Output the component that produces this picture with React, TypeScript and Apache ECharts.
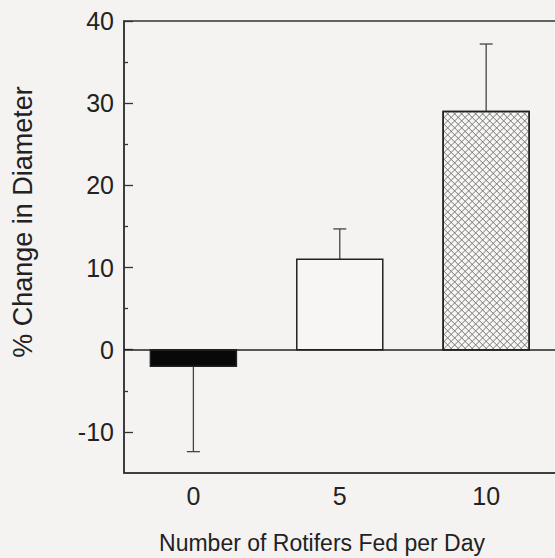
import React, { useEffect, useRef } from "react";
import * as echarts from "echarts";

const categories = [0, 5, 10];
const means = [-2, 11, 29];
const errors = [10.4, 3.7, 8.2];
const yMajorTicks = [-10, 0, 10, 20, 30, 40];
const yMinorTicks = [-5, 5, 15, 25, 35];

const FONT = "'Liberation Sans', Arial, sans-serif";
const AXIS = "#333";

export default function App() {
  const ref = useRef<HTMLDivElement>(null);
  useEffect(() => {
    if (!ref.current) return;
    const chart = echarts.init(ref.current, undefined, { renderer: "svg" });
    const data = categories.map((c, i) => [c, means[i], errors[i], i]);
    const BAR_W = 86;
    const CAP = 13;
    const HATCH = 7;

    const renderItem = (params: any, api: any) => {
      const x = api.value(0);
      const v = api.value(1);
      const e = api.value(2);
      const idx = api.value(3);
      const p0 = api.coord([x, 0]);
      const p1 = api.coord([x, v]);
      const pe = api.coord([x, v + (v >= 0 ? e : -e)]);
      const left = p0[0] - BAR_W / 2;
      const top = Math.min(p0[1], p1[1]);
      const h = Math.abs(p1[1] - p0[1]);
      const children: any[] = [];
      children.push({
        type: "line",
        shape: { x1: p1[0], y1: p1[1], x2: pe[0], y2: pe[1] },
        style: { stroke: "#444", lineWidth: 1.3 },
      });
      children.push({
        type: "line",
        shape: { x1: pe[0] - CAP / 2, y1: pe[1], x2: pe[0] + CAP / 2, y2: pe[1] },
        style: { stroke: "#444", lineWidth: 1.3 },
      });
      let fill = "#f7f6f5";
      if (idx === 0) fill = "#080808";
      children.push({
        type: "rect",
        shape: { x: left, y: top, width: BAR_W, height: h },
        style: { fill, stroke: "#222", lineWidth: 1.5 },
      });
      if (idx === 2) {
        const w = BAR_W;
        for (let c = -w; c <= h; c += HATCH) {
          const xa = Math.max(0, -c);
          const xb = Math.min(w, h - c);
          if (xb > xa)
            children.push({
              type: "line",
              shape: { x1: left + xa, y1: top + xa + c, x2: left + xb, y2: top + xb + c },
              style: { stroke: "#777", lineWidth: 1 },
            });
        }
        for (let c = 0; c <= w + h; c += HATCH) {
          const xa = Math.max(0, c - h);
          const xb = Math.min(w, c);
          if (xb > xa)
            children.push({
              type: "line",
              shape: { x1: left + xa, y1: top + c - xa, x2: left + xb, y2: top + c - xb },
              style: { stroke: "#777", lineWidth: 1 },
            });
        }
        children.push({
          type: "rect",
          shape: { x: left, y: top, width: BAR_W, height: h },
          style: { fill: "none", stroke: "#222", lineWidth: 1.5 },
        });
      }
      return { type: "group", children };
    };

    chart.setOption({
      animation: false,
      backgroundColor: "#f5f3f1",
      grid: {
        left: 124,
        top: 21,
        width: 438,
        bottom: 85,
        show: true,
        borderColor: AXIS,
        borderWidth: 1.5,
        backgroundColor: "transparent",
        outerBoundsMode: "none",
        containLabel: false,
      },
      xAxis: {
        type: "value",
        min: -2.37,
        max: 12.59,
        axisLine: { show: true, onZero: false, lineStyle: { color: AXIS, width: 1.5 } },
        axisTick: { show: false },
        splitLine: { show: false },
        axisLabel: {
          customValues: categories,
          color: "#222",
          fontFamily: FONT,
          fontSize: 25,
          margin: 10,
        },
      },
      yAxis: [
        {
          type: "value",
          min: -15,
          max: 40,
          axisLine: { show: true, onZero: false, lineStyle: { color: AXIS, width: 1.5 } },
          axisTick: {
            show: true,
            inside: true,
            length: 9,
            customValues: yMajorTicks,
            lineStyle: { color: AXIS, width: 1.3 },
          },
          splitLine: { show: false },
          axisLabel: {
            customValues: yMajorTicks,
            color: "#222",
            fontFamily: FONT,
            fontSize: 25,
            margin: 10,
          },
        },
        {
          type: "value",
          position: "left",
          min: -15,
          max: 40,
          axisLine: { show: false, onZero: false },
          axisTick: {
            show: true,
            inside: true,
            length: 4,
            customValues: yMinorTicks,
            lineStyle: { color: AXIS, width: 1.3 },
          },
          splitLine: { show: false },
          axisLabel: { show: false },
        },
      ],
      series: [
        {
          type: "custom",
          renderItem,
          data,
          encode: { x: 0, y: 1 },
          clip: false,
          markLine: {
            silent: true,
            symbol: ["none", "none"],
            label: { show: false },
            lineStyle: { color: "#222", width: 1.5, type: "solid" },
            data: [{ yAxis: 0 }],
          },
        },
      ],
      graphic: [
        {
          type: "text",
          x: 23,
          y: 222,
          rotation: Math.PI / 2,
          style: {
            text: "% Change in Diameter",
            font: `27px ${FONT}`,
            fill: "#222",
            align: "center",
            verticalAlign: "middle",
          },
        },
        {
          type: "text",
          x: 322,
          y: 543,
          style: {
            text: "Number of Rotifers Fed per Day",
            font: `23px ${FONT}`,
            fill: "#222",
            align: "center",
            verticalAlign: "middle",
          },
        },
      ],
    });
    return () => chart.dispose();
  }, []);
  return (
    <div
      ref={ref}
      style={{ position: "fixed", left: 0, top: 0, width: 555, height: 558 }}
    />
  );
}
